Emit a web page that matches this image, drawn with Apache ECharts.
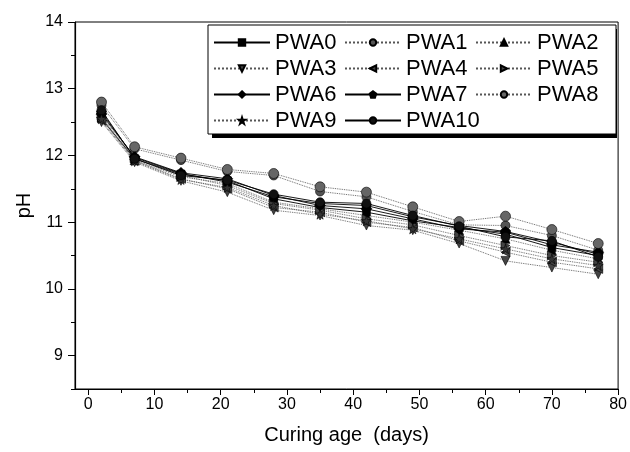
<!DOCTYPE html>
<html>
<head>
<meta charset="utf-8">
<script src="https://cdn.jsdelivr.net/npm/echarts@6/dist/echarts.min.js"></script>
<style>html,body{margin:0;padding:0;background:#fff}#c{width:630px;height:452px}</style>
</head>
<body>
<div id="c"></div>
<script>
var days = [2, 7, 14, 21, 28, 35, 42, 49, 56, 63, 70, 77];
var seriesNames = ['PWA0','PWA1','PWA2','PWA3','PWA4','PWA5','PWA6','PWA7','PWA8','PWA9','PWA10'];
var PWA0  = [12.55, 11.95, 11.72, 11.62, 11.35, 11.22, 11.15, 11.02, 10.92, 10.82, 10.62, 10.50];
var PWA1  = [12.75, 12.10, 11.93, 11.76, 11.70, 11.46, 11.38, 11.16, 10.96, 10.95, 10.80, 10.58];
var PWA2  = [12.58, 11.93, 11.68, 11.58, 11.30, 11.20, 11.10, 11.00, 10.88, 10.75, 10.58, 10.45];
var PWA3  = [12.50, 11.90, 11.62, 11.45, 11.18, 11.10, 10.95, 10.88, 10.68, 10.42, 10.32, 10.22];
var PWA4  = [12.52, 11.92, 11.65, 11.50, 11.22, 11.15, 11.00, 10.92, 10.72, 10.55, 10.40, 10.30];
var PWA5  = [12.60, 11.96, 11.70, 11.55, 11.28, 11.18, 11.05, 10.96, 10.80, 10.65, 10.50, 10.40];
var PWA6  = [12.62, 11.98, 11.74, 11.65, 11.40, 11.25, 11.20, 11.05, 10.90, 10.85, 10.66, 10.55];
var PWA7  = [12.65, 11.97, 11.73, 11.60, 11.38, 11.28, 11.25, 11.08, 10.95, 10.86, 10.70, 10.52];
var PWA8  = [12.80, 12.13, 11.96, 11.79, 11.73, 11.53, 11.45, 11.23, 11.01, 11.09, 10.89, 10.68];
var PWA9  = [12.55, 11.92, 11.64, 11.52, 11.25, 11.12, 11.02, 10.90, 10.75, 10.60, 10.45, 10.35];
var PWA10 = [12.68, 11.95, 11.70, 11.63, 11.42, 11.30, 11.28, 11.10, 10.94, 10.78, 10.72, 10.48];
var values = [PWA0, PWA1, PWA2, PWA3, PWA4, PWA5, PWA6, PWA7, PWA8, PWA9, PWA10];
var xMajorTicks = [0, 10, 20, 30, 40, 50, 60, 70, 80];
var xMinorTicks = [5, 15, 25, 35, 45, 55, 65, 75];
var yMajorTicks = [9, 10, 11, 12, 13, 14];
var yMinorTicks = [8.5, 9.5, 10.5, 11.5, 12.5, 13.5];

var pentagon = 'path://M0,-10 L9.51,-3.09 L5.88,8.09 L-5.88,8.09 L-9.51,-3.09 Z';
var star = 'path://M0,-10 L2.24,-3.09 L9.51,-3.09 L3.63,1.18 L5.88,8.09 L0,3.82 L-5.88,8.09 L-3.63,1.18 L-9.51,-3.09 L-2.24,-3.09 Z';
var styles = [
  {symbol:'rect', rot:0, size:8, color:'#000', line:'solid', lc:'#000'},
  {symbol:'circle', rot:0, size:9, color:'#555', line:'dotted', lc:'#555'},
  {symbol:'triangle', rot:0, size:9, color:'#000', line:'dotted', lc:'#555'},
  {symbol:'triangle', rot:180, size:9, color:'#444', line:'dotted', lc:'#555'},
  {symbol:'triangle', rot:90, size:9, color:'#444', line:'dotted', lc:'#555'},
  {symbol:'triangle', rot:-90, size:9, color:'#444', line:'dotted', lc:'#555'},
  {symbol:'diamond', rot:0, size:11, color:'#000', line:'solid', lc:'#000'},
  {symbol:pentagon, rot:0, size:10, color:'#000', line:'solid', lc:'#000'},
  {symbol:'circle', rot:0, size:10, color:'#666', line:'dotted', lc:'#555'},
  {symbol:star, rot:0, size:10, color:'#333', line:'dotted', lc:'#555'},
  {symbol:'circle', rot:0, size:9, color:'#111', line:'solid', lc:'#000'}
];

var series = seriesNames.map(function(n, i){
  var st = styles[i];
  return {
    name: n, type: 'line', xAxisIndex: 0, yAxisIndex: 0,
    data: days.map(function(d, j){ return [d, values[i][j]]; }),
    symbol: st.symbol, symbolRotate: st.rot, symbolSize: st.size,
    showAllSymbol: true,
    lineStyle: {color: st.lc, width: 0.9, type: st.line},
    itemStyle: {color: st.color, borderColor: '#000', borderWidth: 0.6},
    emphasis: {disabled: true},
    animation: false
  };
});

var font = 'Liberation Sans, Arial, sans-serif';
var chart = echarts.init(document.getElementById('c'), null, {renderer: 'canvas'});
chart.setOption({
  backgroundColor: '#fff',
  animation: false,
  grid: {left: 75, right: 10, top: 22, bottom: 63, show: true, borderColor: '#000', borderWidth: 1, backgroundColor: 'transparent'},
  xAxis: [{
    type: 'value', min: -2, max: 80,
    name: 'Curing age  (days)', nameLocation: 'middle', nameGap: 36,
    nameTextStyle: {fontFamily: font, fontSize: 20, color: '#000'},
    axisLine: {show: true, onZero: false, lineStyle: {color: '#000', width: 1.2}},
    axisTick: {show: true, inside: false, length: 6, customValues: xMajorTicks, lineStyle: {color: '#000'}},
    axisLabel: {show: true, margin: 8, customValues: xMajorTicks, fontFamily: font, fontSize: 16, color: '#000'},
    splitLine: {show: false}
  }, {
    type: 'value', min: -2, max: 80, position: 'bottom',
    axisLine: {show: false, onZero: false},
    axisTick: {show: true, length: 4, customValues: xMinorTicks, lineStyle: {color: '#000'}},
    axisLabel: {show: false},
    splitLine: {show: false}
  }],
  yAxis: [{
    type: 'value', min: 8.5, max: 14,
    name: 'pH', nameLocation: 'middle', nameGap: 38,
    nameTextStyle: {fontFamily: font, fontSize: 20, color: '#000'},
    axisLine: {show: true, onZero: false, lineStyle: {color: '#000', width: 1.2}},
    axisTick: {show: true, length: 7, customValues: yMajorTicks, lineStyle: {color: '#000'}},
    axisLabel: {show: true, margin: 12, customValues: yMajorTicks, fontFamily: font, fontSize: 16, color: '#000'},
    splitLine: {show: false}
  }, {
    type: 'value', min: 8.5, max: 14, position: 'left',
    axisLine: {show: false, onZero: false},
    axisTick: {show: true, length: 4, customValues: yMinorTicks, lineStyle: {color: '#000'}},
    axisLabel: {show: false},
    splitLine: {show: false}
  }],
  legend: {
    data: seriesNames,
    left: 208, top: 25, width: 400,
    orient: 'horizontal',
    padding: [6, 13, 2, 5],
    itemWidth: 56, itemHeight: 8, itemGap: 3,
    backgroundColor: '#fff', borderColor: '#000', borderWidth: 1,
    textStyle: {fontFamily: font, fontSize: 22, color: '#000', width: 66, lineHeight: 23, padding: [0,0,0,0]},
    z: 10
  },
  graphic: [{
    type: 'rect', z: 5, silent: true,
    shape: {x: 212, y: 29, width: 405, height: 109},
    style: {fill: '#000'}
  }],
  series: series
});
</script>
</body>
</html>
